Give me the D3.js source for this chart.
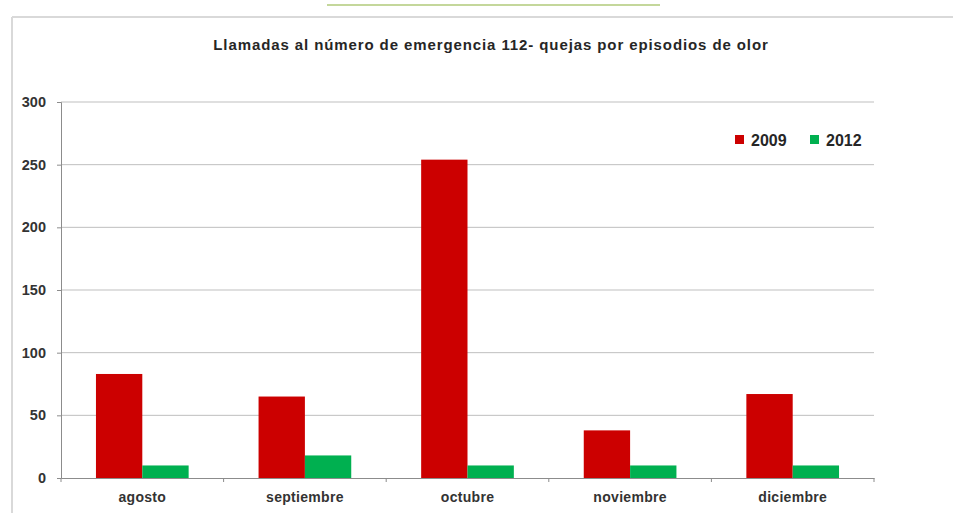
<!DOCTYPE html>
<html>
<head>
<meta charset="utf-8">
<script src="https://cdn.jsdelivr.net/npm/d3@7"></script>
<style>
  body { margin: 0; background: #fff; }
  svg { display: block; font-family: "Liberation Sans", Arial, sans-serif; }
</style>
</head>
<body>
<div id="chartMain"></div>
<script>
const categories = ["agosto", "septiembre", "octubre", "noviembre", "diciembre"];
const series = ["2009", "2012"];
const values2009 = [83, 65, 254, 38, 67];
const values2012 = [10, 18, 10, 10, 10];
const yTicks = [0, 50, 100, 150, 200, 250, 300];
const colors = ["#cc0000", "#00b050"];
const title = "Llamadas al número de emergencia 112- quejas por episodios de olor";

const W = 953, H = 513;
const margin = { top: 102, right: 79, bottom: 35, left: 61 },
      width = W - margin.left - margin.right,
      height = H - margin.top - margin.bottom;

const root = d3.select("#chartMain").append("svg")
    .attr("width", W).attr("height", H);

// marco del gráfico
root.append("line").attr("x1", 327).attr("x2", 660).attr("y1", 5).attr("y2", 5)
    .attr("stroke", "#c4d79b").attr("stroke-width", 2);
root.append("line").attr("x1", 12).attr("x2", W).attr("y1", 17).attr("y2", 17)
    .attr("stroke", "#d9d9d9").attr("stroke-width", 2);
root.append("line").attr("x1", 12).attr("x2", 12).attr("y1", 17).attr("y2", H)
    .attr("stroke", "#d9d9d9").attr("stroke-width", 2);

root.append("text")
    .attr("x", 491).attr("y", 50)
    .attr("text-anchor", "middle")
    .attr("font-size", 15).attr("font-weight", "bold").attr("fill", "#262626")
    .attr("letter-spacing", 0.9)
    .text(title);

const svg = root.append("g").attr("transform", `translate(${margin.left},${margin.top})`);

const x = d3.scaleBand().domain(categories).range([0, width]).paddingInner(0.43).paddingOuter(0.215);
const x1 = d3.scaleBand().domain(series).range([0, x.bandwidth()]);
const y = d3.scaleLinear().domain([0, 300]).range([height, 0]);

// cuadrícula
svg.append("g").selectAll("line").data(yTicks.slice(1)).join("line")
    .attr("x1", 0).attr("x2", width)
    .attr("y1", d => y(d)).attr("y2", d => y(d))
    .attr("stroke", "#bfbfbf").attr("stroke-width", 1);

const yAxis = svg.append("g").call(d3.axisLeft(y).tickValues(yTicks).tickSize(4).tickPadding(11));
yAxis.select(".domain").attr("stroke", "#8c8c8c");
yAxis.selectAll(".tick line").attr("stroke", "#8c8c8c");
yAxis.selectAll("text").attr("font-size", 14.5).attr("font-weight", "bold").attr("fill", "#333")
    .attr("font-family", "Liberation Sans, Arial, sans-serif");

const xAxis = svg.append("g").attr("transform", `translate(0,${height})`)
    .call(d3.axisBottom(x).tickSize(0).tickPadding(14));
xAxis.select(".domain").attr("stroke", "#8c8c8c");
xAxis.selectAll("text").attr("font-size", 14).attr("font-weight", "bold").attr("fill", "#333")
    .attr("letter-spacing", 0.3)
    .attr("font-family", "Liberation Sans, Arial, sans-serif");
// marcas entre categorías
const step = width / categories.length;
svg.append("g").selectAll("line").data(d3.range(categories.length + 1)).join("line")
    .attr("x1", d => d * step).attr("x2", d => d * step)
    .attr("y1", height).attr("y2", height + 4)
    .attr("stroke", "#8c8c8c");

const data = categories.map((c, i) => ({ c, v: [values2009[i], values2012[i]] }));
svg.append("g").selectAll("g").data(data).join("g")
    .attr("transform", d => `translate(${x(d.c)},0)`)
    .selectAll("rect").data(d => d.v.map((v, j) => ({ s: series[j], v, j }))).join("rect")
    .attr("x", d => x1(d.s)).attr("width", x1.bandwidth())
    .attr("y", d => y(d.v)).attr("height", d => height - y(d.v))
    .attr("fill", d => colors[d.j]);

// leyenda
const legend = root.append("g").attr("transform", "translate(735,140)");
const li = legend.selectAll("g").data(series).join("g")
    .attr("transform", (d, i) => `translate(${i * 75},0)`);
li.append("rect").attr("x", 0).attr("y", -5).attr("width", 9).attr("height", 9)
    .attr("fill", (d, i) => colors[i]);
li.append("text").attr("x", 16).attr("y", 6)
    .attr("font-size", 16).attr("font-weight", "bold").attr("fill", "#262626")
    .text(d => d);
</script>
</body>
</html>
